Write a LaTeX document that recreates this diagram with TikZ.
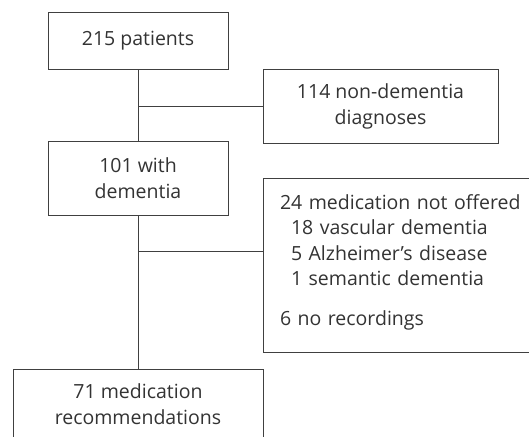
\documentclass[tikz,border=0pt]{standalone}
\usepackage{fontspec}
\setmainfont{Open Sans}
\begin{document}
\begin{tikzpicture}[x=1pt,y=-1pt,
  box/.style={draw=black!75, line width=1pt, inner sep=0pt, align=center,
    text=black!80, font=\fontsize{19.5}{26}\selectfont},
  link/.style={draw=black!75, line width=1pt}]
\useasboundingbox (0,0) rectangle (529,436);
\clip (0,0) rectangle (529,436);
        \node (pat) [box, minimum width=180pt, minimum height=56pt] at (138,41) {215 patients};
        \node (nd) [box, minimum width=235pt, minimum height=74pt] at (380.5,106) {114 non-dementia\\diagnoses};
        \node (dem) [box, minimum width=180pt, minimum height=74pt] at (138,178) {101 with\\dementia};
        \node (nmo) [box, minimum width=290pt, minimum height=174pt, text width=256pt, align=left,
                font=\fontsize{19.5}{25.5}\selectfont] at (408,265)
                {24 medication not offered\\
                \hspace*{11pt}18 vascular dementia\\
                \hspace*{11pt}5 Alzheimer’s disease\\
                \hspace*{11pt}1 semantic dementia\\[14pt]
                6 no recordings\\[-15pt]\mbox{}};
        \node (rec) [box, minimum width=250pt, minimum height=70pt] at (138,404) {71 medication\\recommendations};
        \coordinate (j2) at (138,251);
        \draw [link] (pat) -- (dem);
        \draw [link] (dem) -- (rec);
        \draw [link] (nd.west) -- (nd.west -| pat.south);
        \draw [link] (j2) -- (j2 -| nmo.west);
\end{tikzpicture}
\end{document}
